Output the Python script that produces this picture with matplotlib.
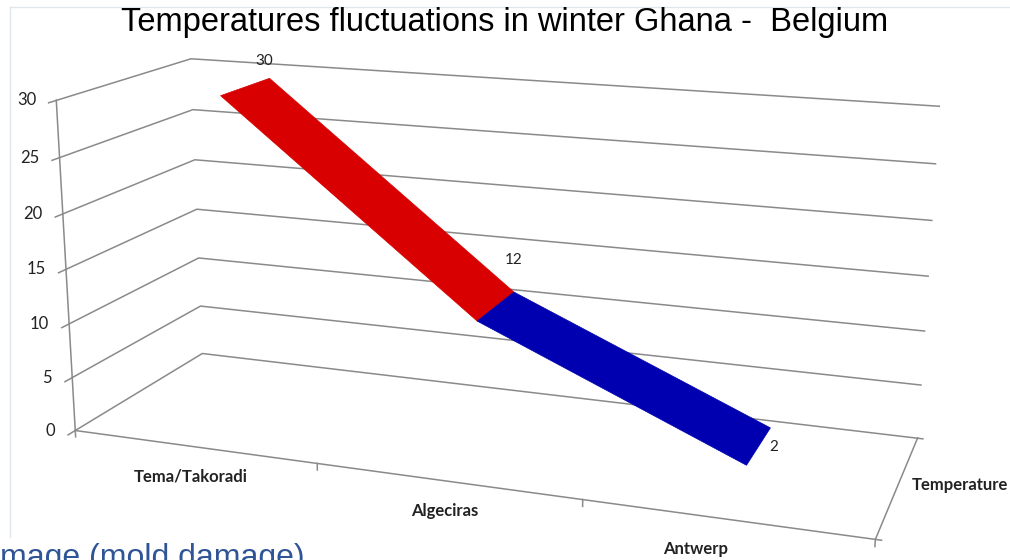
import numpy as np
import matplotlib
matplotlib.use('Agg')
import matplotlib.pyplot as plt
from matplotlib.transforms import offset_copy
from mpl_toolkits.mplot3d.art3d import Poly3DCollection

# data
categories = ['Tema/Takoradi', 'Algeciras', 'Antwerp']
temps = [30, 12, 2]
value_ticks = [0, 5, 10, 15, 20, 25, 30]
series_name = 'Temperature'
title = 'Temperatures fluctuations in winter Ghana -  Belgium'

# style
seg_colors = ['#d80000', '#0000b0']
label_offsets = [(-5, 17), (0, 32), (4, -20)]   # data labels, pixels
cat_offsets = [(-3, -30), (-2, -30), (-30, -30)]  # category labels, pixels
grid_color = '#8a8a8a'
text_color = '#222222'

W, H = 1010, 560
fig = plt.figure(figsize=(W / 100, H / 100), dpi=100)
ax = fig.add_subplot(projection='3d')

X0, X1 = -0.5, len(categories) - 0.5
Y0, Y1 = 0.0, 1.0
ya, yb = 0.3, 0.7      # ribbon depth
ax.set_xlim(X0, X1)
ax.set_ylim(Y0, Y1)
ax.set_zlim(0, max(value_ticks))
ax.set_axis_off()
ax.computed_zorder = False

# camera matching the excel 3d line view
ax.view_init(15.39, -70.48, -0.22)
ax.set_proj_type('persp', focal_length=0.353)
ax.set_box_aspect((3, 1.012, 1.26), zoom=0.892)
cx, cy = 482.0, 286.4
ax.set_position([(cx - W / 2) / W, ((H - cy) - W / 2) / H, 1, W / H])

# walls: gridlines on side + back wall
grid_kw = dict(color=grid_color, lw=1.1, zorder=1)
for v in value_ticks:
    ax.plot([X0, X0, X1], [Y0, Y1, Y1], [v, v, v], **grid_kw)
    ax.plot([X0, X0], [Y0, Y0 - 0.05], [v, v], **grid_kw)
ax.plot([X0, X0], [Y0, Y0], [0, max(value_ticks)], **grid_kw)
ax.plot([X0, X1, X1], [Y0, Y0, Y1], [0, 0, 0], **grid_kw)
for xb in [X0 + k for k in range(len(categories) + 1)]:
    ax.plot([xb, xb], [Y0, Y0], [0, -0.6], **grid_kw)
for yy in [Y0, Y1]:
    ax.plot([X1, X1 + 0.02], [yy, yy], [0, 0], **grid_kw)

# the ribbon
for i in range(len(temps) - 1):
    quad = [(i, ya, temps[i]), (i + 1, ya, temps[i + 1]),
            (i + 1, yb, temps[i + 1]), (i, yb, temps[i])]
    ax.add_collection3d(Poly3DCollection([quad], facecolor=seg_colors[i],
                                         edgecolor=seg_colors[i], lw=0.5, zorder=3))

M = ax.get_proj()


def label3d(x, y, z, s, dx=0, dy=0, **kw):
    # project the 3d anchor, then place a plain 2d text there
    v = M @ np.array([x, y, z, 1.0])
    tr = offset_copy(ax.transData, fig=fig, x=dx, y=dy, units='dots')
    ax.text2D(v[0] / v[3], v[1] / v[3], s, transform=tr, zorder=5, color=text_color,
              family='Lato', **kw)


for v in value_ticks:
    label3d(X0, Y0, v, str(v), dx=-20, ha='right', va='center', fontsize=12)
for i, c in enumerate(categories):
    label3d(i, Y0, 0, c, dx=cat_offsets[i][0], dy=cat_offsets[i][1], ha='center',
            va='center', fontsize=12, fontweight='bold')
label3d(X1, (Y0 + Y1) / 2, 0, series_name, dx=14, ha='left', va='center',
        fontsize=12, fontweight='bold')
for i, v in enumerate(temps):
    label3d(i, yb, v, str(v), dx=label_offsets[i][0], dy=label_offsets[i][1],
            ha='center', va='center', fontsize=11)

fig.text(0.5, 1 - 22 / H, title, ha='center', va='center', fontsize=23.5,
         family='Liberation Sans')
fig.text(0, 1 - 566 / H, 'mage (mold damage)', ha='left', va='baseline', fontsize=23,
         family='Liberation Sans', color='#2f5597')

# faint frame of the slide
fig.add_artist(plt.Line2D([10 / W, 10 / W], [1 - 7 / H, 1 - 537 / H], color='#dfe7eb', lw=1))
fig.add_artist(plt.Line2D([10 / W, 1], [1 - 7 / H, 1 - 7 / H], color='#dfe7eb', lw=1))

fig.savefig('out.png', dpi=100)
